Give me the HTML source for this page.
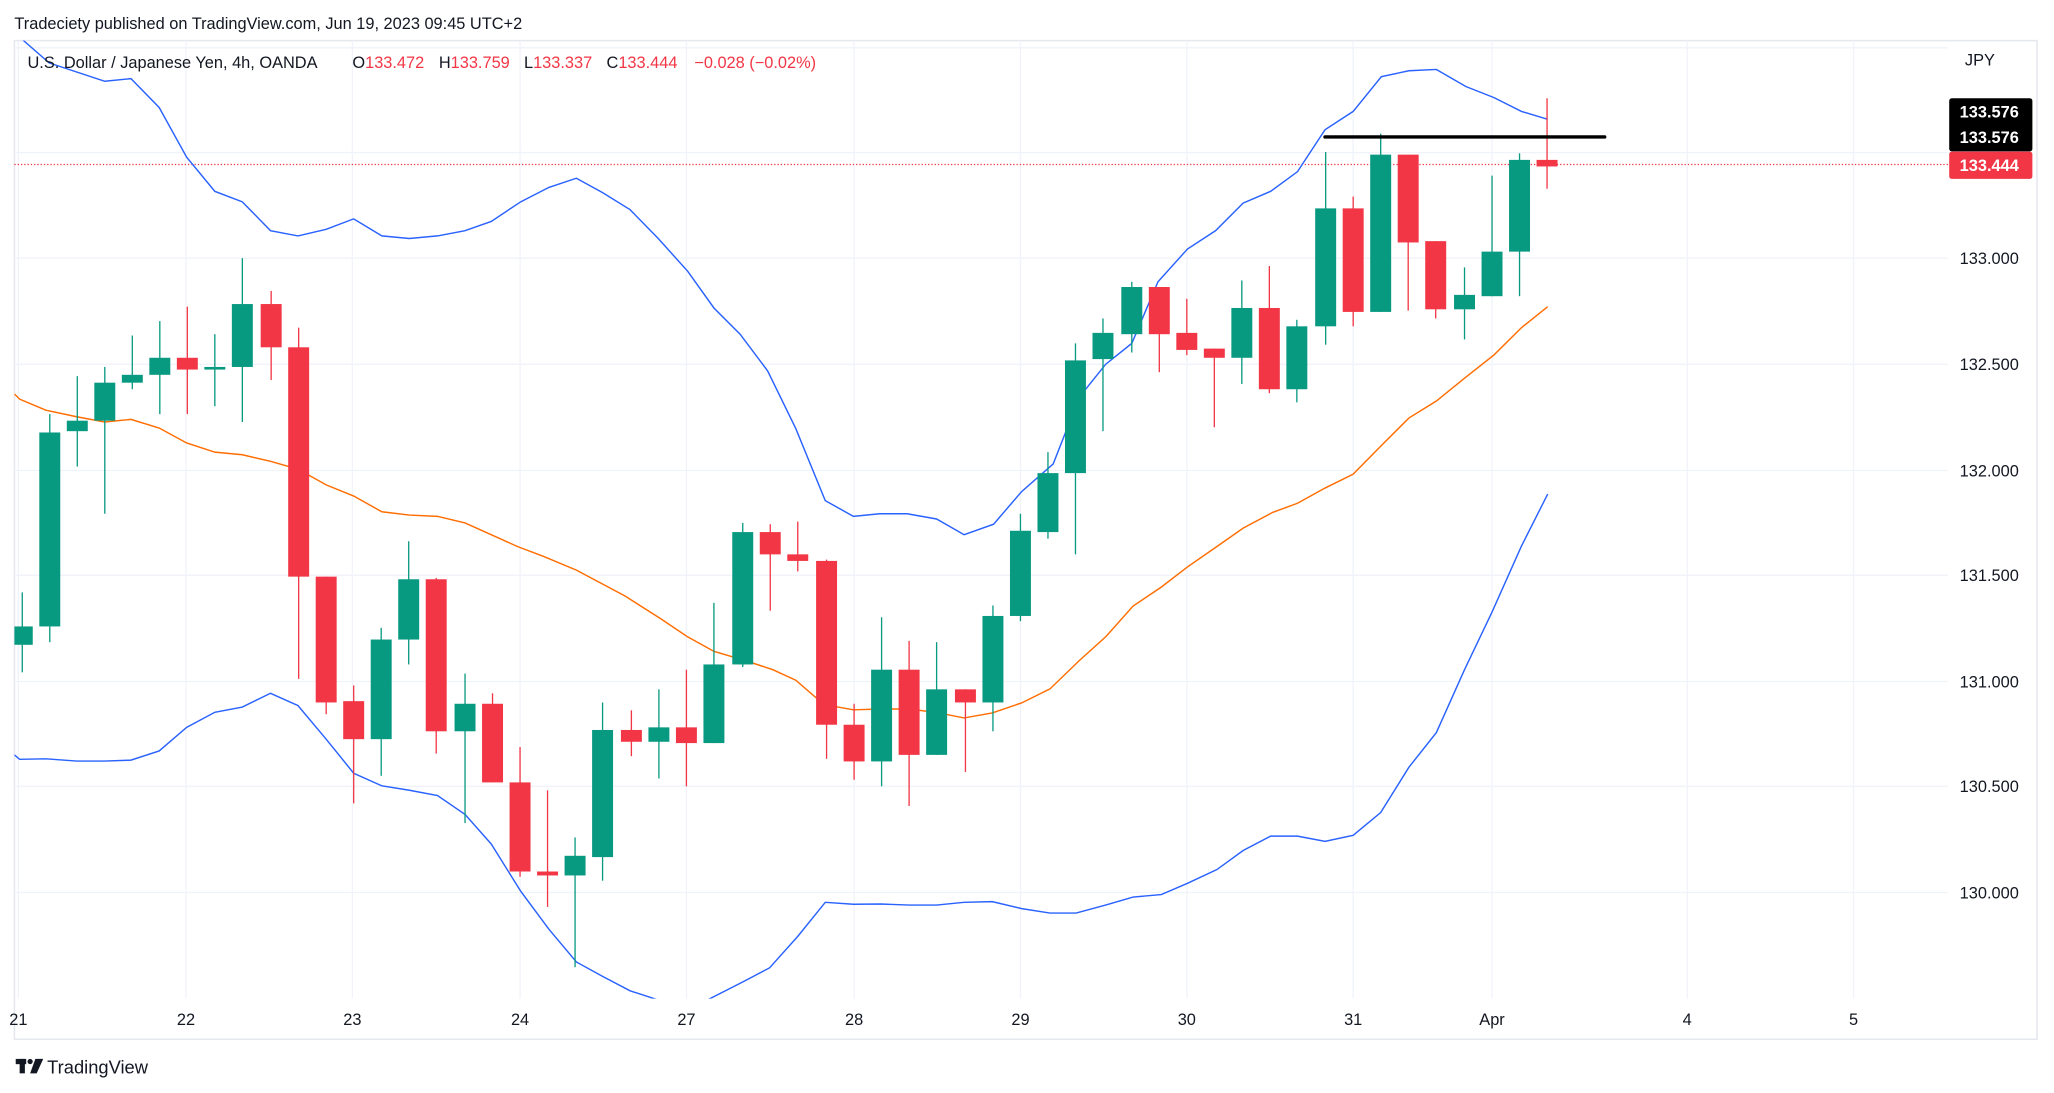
<!DOCTYPE html>
<html><head><meta charset="utf-8"><style>
html,body{margin:0;padding:0;background:#fff;overflow:hidden}
svg{display:block}
text{font-family:"Liberation Sans",sans-serif;fill:#131722}
.g{fill:#089981}.r{fill:#f23645}
</style></head><body>
<svg width="2054" height="1093" viewBox="0 0 1568 834" preserveAspectRatio="none" xmlns="http://www.w3.org/2000/svg">
<defs><clipPath id="pl"><rect x="11" y="31" width="1476" height="731"/></clipPath></defs>
<text x="11" y="22" font-size="12.5">Tradeciety published on TradingView.com, Jun 19, 2023 09:45 UTC+2</text>
<rect x="11" y="31" width="1544" height="762" fill="none" stroke="#e6e8ef" stroke-width="1.2"/>
<g stroke="#f0f3fa" stroke-width="1">
<line x1="11" y1="36.5" x2="1487" y2="36.5"/><line x1="11" y1="116.4" x2="1487" y2="116.4"/><line x1="11" y1="197" x2="1487" y2="197"/><line x1="11" y1="278" x2="1487" y2="278"/><line x1="11" y1="359" x2="1487" y2="359"/><line x1="11" y1="439" x2="1487" y2="439"/><line x1="11" y1="520" x2="1487" y2="520"/><line x1="11" y1="600" x2="1487" y2="600"/><line x1="11" y1="681" x2="1487" y2="681"/>
<line x1="14" y1="31" x2="14" y2="762"/><line x1="142" y1="31" x2="142" y2="762"/><line x1="269" y1="31" x2="269" y2="762"/><line x1="397" y1="31" x2="397" y2="762"/><line x1="524" y1="31" x2="524" y2="762"/><line x1="652" y1="31" x2="652" y2="762"/><line x1="779" y1="31" x2="779" y2="762"/><line x1="906" y1="31" x2="906" y2="762"/><line x1="1033" y1="31" x2="1033" y2="762"/><line x1="1139" y1="31" x2="1139" y2="762"/><line x1="1288" y1="31" x2="1288" y2="762"/><line x1="1415" y1="31" x2="1415" y2="762"/>
</g>
<line x1="11" y1="125.5" x2="1487" y2="125.5" stroke="#f23645" stroke-width="1" stroke-dasharray="1,1.5"/>
<g clip-path="url(#pl)" fill="none" stroke-width="1.1">
<polyline stroke="#2962ff" points="11,24 18,31 37.5,48 80,62 100,60 121.5,82 142.5,120 164,146 185,154 206.5,176 227.5,180 249,175 270,167 291.5,180 312.5,182 334,180 355,176 375,169 397.5,154 419,143 440,136 460,147 481,160 502.5,182 525,207 545,235 565,255 586,283 607.5,327 630,382 651.5,394 671.5,392 692.5,392 715,396 736,408 758.5,400 780,375 804,354 824,303 844,278 864,262 884,215 906.5,190 928,176 949,155 970,146 990.5,131 1011.5,99 1033,85 1054.5,58.5 1075.5,54 1096.5,53 1119,66 1140.5,74.5 1161.5,85 1181.5,91"/>
<polyline stroke="#ff6d00" points="11,300.6 15,304.6 35,313 58.5,318 80,322 100,320 121.5,326.6 142.5,338 164,345 185,347 206.5,352 227.5,358 249,370 270,378.5 291.5,390.5 312.5,393 334,394 355,399 395,417 415,424.6 440,435 477.5,455 505,472.5 525,486 545,497 570,504.4 590,511 607.5,519 629,537.6 651.5,541.6 672.5,541 694,541 715,543.7 736,547.8 757.5,544 780,536.3 801.5,525.7 824,504 844,486 865,462.4 886.5,448 906.5,432.6 929,417 949,403 971.5,391 990.5,384 1011.5,372.4 1033,361.8 1054,340.5 1075.5,319 1096.5,306 1118,288.6 1140.5,270.8 1161.5,250 1181.5,234"/>
<polyline stroke="#2962ff" points="11,576 15,579.4 35,579 58.5,580.7 80,580.7 100,580 121.5,573 142.5,555 164,543.5 185,539.5 206.5,529 227.5,538.4 249,564 270,590 291.5,599.6 312.5,603 334,607 355,621.4 375,644 397.5,680 419,709 440,734 460,745 481,756 502.5,763 525,768 540,763 567.5,749 587.5,738.5 609,714.5 630,688.5 651.5,690 672.5,689.8 694,690.6 715,690.6 736,688.5 757.5,688 780,693.3 801.5,696.7 821.5,696.7 844,690.6 865,684.5 886.5,682.6 906.5,674 929,663.5 949,649 970,638 990.5,638 1011.5,642 1033,637.4 1054,620 1075.5,585.5 1096.5,559 1118,511 1139,467 1161.5,416.6 1181.5,377"/>
</g>
<g>
<rect class="g" x="16.5" y="452" width="1" height="61"/><rect class="g" x="11" y="478" width="14" height="14"/>
<rect class="g" x="37.5" y="316" width="1" height="174"/><rect class="g" x="30" y="330" width="16" height="148"/>
<rect class="g" x="58.5" y="287" width="1" height="69"/><rect class="g" x="51" y="321" width="16" height="8"/>
<rect class="g" x="79.5" y="280" width="1" height="112"/><rect class="g" x="72" y="292" width="16" height="29"/>
<rect class="g" x="100.5" y="256" width="1" height="41"/><rect class="g" x="93" y="286" width="16" height="6"/>
<rect class="g" x="121.5" y="245" width="1" height="71"/><rect class="g" x="114" y="273" width="16" height="13"/>
<rect class="r" x="142.5" y="234" width="1" height="82"/><rect class="r" x="135" y="273" width="16" height="9"/>
<rect class="g" x="163.5" y="255" width="1" height="55"/><rect class="g" x="156" y="280" width="16" height="2"/>
<rect class="g" x="184.5" y="197" width="1" height="125"/><rect class="g" x="177" y="232" width="16" height="48"/>
<rect class="r" x="206.5" y="222" width="1" height="68"/><rect class="r" x="199" y="232" width="16" height="33"/>
<rect class="r" x="227.5" y="250" width="1" height="268"/><rect class="r" x="220" y="265" width="16" height="175"/>
<rect class="r" x="248.5" y="440" width="1" height="105"/><rect class="r" x="241" y="440" width="16" height="96"/>
<rect class="r" x="269.5" y="523" width="1" height="90"/><rect class="r" x="262" y="535" width="16" height="29"/>
<rect class="g" x="290.5" y="479" width="1" height="113"/><rect class="g" x="283" y="488" width="16" height="76"/>
<rect class="g" x="311.5" y="413" width="1" height="94"/><rect class="g" x="304" y="442" width="16" height="46"/>
<rect class="r" x="332.5" y="441" width="1" height="134"/><rect class="r" x="325" y="442" width="16" height="116"/>
<rect class="g" x="354.5" y="514" width="1" height="114"/><rect class="g" x="347" y="537" width="16" height="21"/>
<rect class="r" x="375.5" y="529" width="1" height="68"/><rect class="r" x="368" y="537" width="16" height="60"/>
<rect class="r" x="396.5" y="570" width="1" height="99"/><rect class="r" x="389" y="597" width="16" height="68"/>
<rect class="r" x="417.5" y="603" width="1" height="89"/><rect class="r" x="410" y="665" width="16" height="3"/>
<rect class="g" x="438.5" y="639" width="1" height="99"/><rect class="g" x="431" y="653" width="16" height="15"/>
<rect class="g" x="459.5" y="536" width="1" height="136"/><rect class="g" x="452" y="557" width="16" height="97"/>
<rect class="r" x="481.5" y="542" width="1" height="35"/><rect class="r" x="474" y="557" width="16" height="9"/>
<rect class="g" x="502.5" y="526" width="1" height="68"/><rect class="g" x="495" y="555" width="16" height="11"/>
<rect class="r" x="523.5" y="511" width="1" height="89"/><rect class="r" x="516" y="555" width="16" height="12"/>
<rect class="g" x="544.5" y="460" width="1" height="107"/><rect class="g" x="537" y="507" width="16" height="60"/>
<rect class="g" x="566.5" y="399" width="1" height="110"/><rect class="g" x="559" y="406" width="16" height="101"/>
<rect class="r" x="587.5" y="400" width="1" height="66"/><rect class="r" x="580" y="406" width="16" height="17"/>
<rect class="r" x="608.5" y="398" width="1" height="38"/><rect class="r" x="601" y="423" width="16" height="5"/>
<rect class="r" x="630.5" y="427" width="1" height="152"/><rect class="r" x="623" y="428" width="16" height="125"/>
<rect class="r" x="651.5" y="537" width="1" height="58"/><rect class="r" x="644" y="553" width="16" height="28"/>
<rect class="g" x="672.5" y="471" width="1" height="129"/><rect class="g" x="665" y="511" width="16" height="70"/>
<rect class="r" x="693.5" y="489" width="1" height="126"/><rect class="r" x="686" y="511" width="16" height="65"/>
<rect class="g" x="714.5" y="490" width="1" height="86"/><rect class="g" x="707" y="526" width="16" height="50"/>
<rect class="r" x="736.5" y="526" width="1" height="63"/><rect class="r" x="729" y="526" width="16" height="10"/>
<rect class="g" x="757.5" y="462" width="1" height="96"/><rect class="g" x="750" y="470" width="16" height="66"/>
<rect class="g" x="778.5" y="392" width="1" height="82"/><rect class="g" x="771" y="405" width="16" height="65"/>
<rect class="g" x="799.5" y="345" width="1" height="66"/><rect class="g" x="792" y="361" width="16" height="45"/>
<rect class="g" x="820.5" y="262" width="1" height="161"/><rect class="g" x="813" y="275" width="16" height="86"/>
<rect class="g" x="841.5" y="243" width="1" height="86"/><rect class="g" x="834" y="254" width="16" height="20"/>
<rect class="g" x="863.5" y="215" width="1" height="54"/><rect class="g" x="856" y="219" width="16" height="36"/>
<rect class="r" x="884.5" y="219" width="1" height="65"/><rect class="r" x="877" y="219" width="16" height="36"/>
<rect class="r" x="905.5" y="228" width="1" height="43"/><rect class="r" x="898" y="254" width="16" height="13"/>
<rect class="r" x="926.5" y="266" width="1" height="60"/><rect class="r" x="919" y="266" width="16" height="7"/>
<rect class="g" x="947.5" y="214" width="1" height="79"/><rect class="g" x="940" y="235" width="16" height="38"/>
<rect class="r" x="968.5" y="203" width="1" height="97"/><rect class="r" x="961" y="235" width="16" height="62"/>
<rect class="g" x="989.5" y="244" width="1" height="63"/><rect class="g" x="982" y="249" width="16" height="48"/>
<rect class="g" x="1011.5" y="116" width="1" height="147"/><rect class="g" x="1004" y="159" width="16" height="90"/>
<rect class="r" x="1032.5" y="150" width="1" height="99"/><rect class="r" x="1025" y="159" width="16" height="79"/>
<rect class="g" x="1053.5" y="102" width="1" height="136"/><rect class="g" x="1046" y="118" width="16" height="120"/>
<rect class="r" x="1074.5" y="118" width="1" height="119"/><rect class="r" x="1067" y="118" width="16" height="67"/>
<rect class="r" x="1095.5" y="184" width="1" height="59"/><rect class="r" x="1088" y="184" width="16" height="52"/>
<rect class="g" x="1117.5" y="204" width="1" height="55"/><rect class="g" x="1110" y="225" width="16" height="11"/>
<rect class="g" x="1138.5" y="134" width="1" height="92"/><rect class="g" x="1131" y="192" width="16" height="34"/>
<rect class="g" x="1159.5" y="117" width="1" height="109"/><rect class="g" x="1152" y="122" width="16" height="70"/>
<rect class="r" x="1180.5" y="75" width="1" height="69"/><rect class="r" x="1173" y="122" width="16" height="5"/>
</g>
<line x1="1011.5" y1="104.5" x2="1225" y2="104.5" stroke="#000" stroke-width="2.6" stroke-linecap="round"/>
<g font-size="12.5">
<text x="21" y="52">U.S. Dollar / Japanese Yen, 4h, OANDA</text>
<text x="269" y="52">O<tspan class="r">133.472</tspan></text>
<text x="335" y="52">H<tspan class="r">133.759</tspan></text>
<text x="400" y="52">L<tspan class="r">133.337</tspan></text>
<text x="463" y="52">C<tspan class="r">133.444</tspan></text>
<text x="530" y="52" class="r">−0.028 (−0.02%)</text>
</g>
<text x="1500" y="50" font-size="12.5">JPY</text>
<g font-size="12.5">
<text x="1496" y="201.5">133.000</text><text x="1496" y="282.5">132.500</text><text x="1496" y="363.5">132.000</text><text x="1496" y="443.5">131.500</text><text x="1496" y="524.5">131.000</text><text x="1496" y="604.5">130.500</text><text x="1496" y="685.5">130.000</text>
</g>
<rect x="1488" y="75" width="63.5" height="40.5" rx="2" fill="#000"/>
<rect x="1488" y="115.7" width="63.5" height="20.8" rx="2" fill="#f23645"/>
<g font-size="12.5" font-weight="bold"><text x="1496" y="89.5" style="fill:#fff">133.576</text><text x="1496" y="109" style="fill:#fff">133.576</text><text x="1496" y="130.5" style="fill:#fff">133.444</text></g>
<g font-size="12.5" text-anchor="middle">
<text x="14" y="782">21</text><text x="142" y="782">22</text><text x="269" y="782">23</text><text x="397" y="782">24</text><text x="524" y="782">27</text><text x="652" y="782">28</text><text x="779" y="782">29</text><text x="906" y="782">30</text><text x="1033" y="782">31</text><text x="1139" y="782">Apr</text><text x="1288" y="782">4</text><text x="1415" y="782">5</text>
</g>
<g fill="#131722"><rect x="12" y="808" width="8" height="4"/><rect x="15" y="808" width="4" height="11"/><circle cx="23" cy="810" r="2"/><polygon points="27,808 33,808 28,819 23,819"/></g>
<text x="36" y="819" font-size="14">TradingView</text>
</svg>
</body></html>
